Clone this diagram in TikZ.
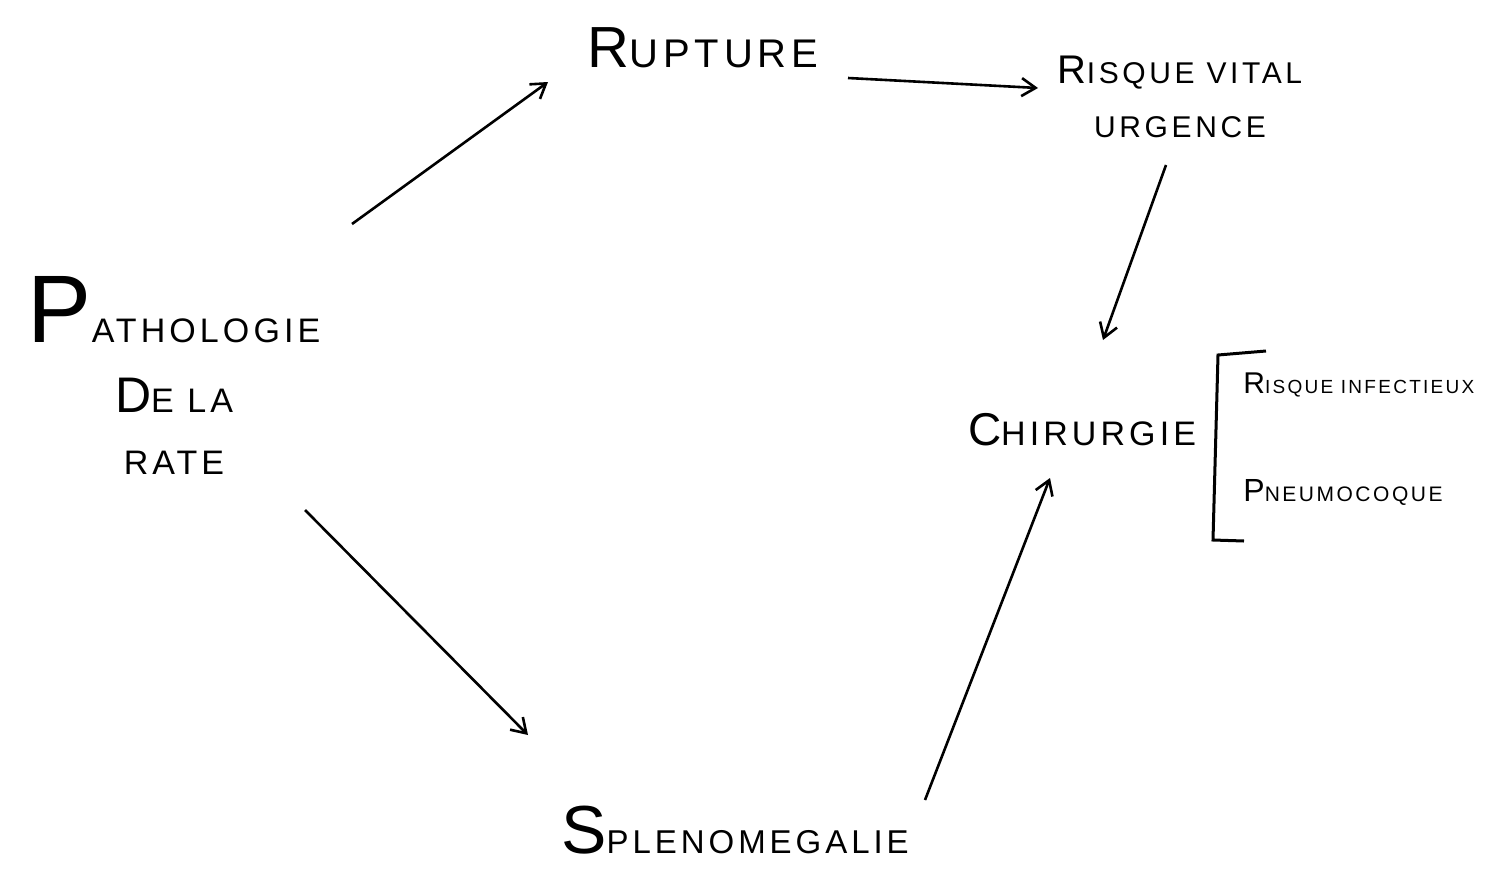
\documentclass[tikz,border=0pt]{standalone}
\usepackage{fontspec}
\setmainfont{Liberation Sans}[LetterSpace=12]
\usetikzlibrary{arrows.meta,calc}
\newcommand{\hsz}[2]{\fontsize{#1}{#2}\selectfont}
\begin{document}
\begin{tikzpicture}[x=0.5pt,y=-0.5pt,
  lbl/.style={inner sep=0pt,align=center,text=black},
  arr/.style={line width=1.3pt,-{Straight Barb[length=7pt,width=9pt,line width=1.3pt]}},
  brk/.style={line width=1.5pt}]
\useasboundingbox (0,0) rectangle (1489,868);
\node[lbl,font=\hsz{17}{35}] (path) at (174,375) {{\hsz{48}{48}P}ATHOLOGIE\\
  {\hsz{25}{25}D}E LA\\[-4pt] RATE};
\node[lbl,font=\hsz{20}{20}] (rupture) at (703,48) {{\hsz{29}{29}R}UPTURE};
\node[lbl,font=\hsz{15}{27}] (risque) at (1180,97) {{\hsz{20}{20}R}ISQUE VITAL\\ URGENCE};
\node[lbl,font=\hsz{17}{17}] (chir) at (1082,430) {{\hsz{23}{23}C}HIRURGIE};
\node[lbl,anchor=west,font=\hsz{9.5}{9.5}] (infect) at (1243,385) {{\hsz{15}{15}R}ISQUE INFECTIEUX};
\node[lbl,anchor=west,font=\hsz{10.5}{10.5}] (pneumo) at (1243,492) {{\hsz{16}{16}P}NEUMOCOQUE};
\node[lbl,font=\hsz{16.5}{16.5}] (splen) at (735,830) {{\hsz{34}{34}S}PLENOMEGALIE};
\draw[arr] ($(path.center)+(178,-151)$) -- ($(rupture.center)+(-155,34)$);
\draw[arr] ($(rupture.center)+(145,30)$) -- ($(risque.center)+(-142,-9)$);
\draw[arr] ($(risque.center)+(-14,68)$) -- ($(chir.center)+(21,-90)$);
\draw[arr] ($(path.center)+(131,135)$) -- ($(splen.center)+(-207,-95)$);
\draw[arr] ($(splen.center)+(190,-30)$) -- ($(chir.center)+(-32,48)$);
\draw[brk] (1266,351) -- (1218,355) -- (1213,540) -- (1244,541);
\end{tikzpicture}
\end{document}
